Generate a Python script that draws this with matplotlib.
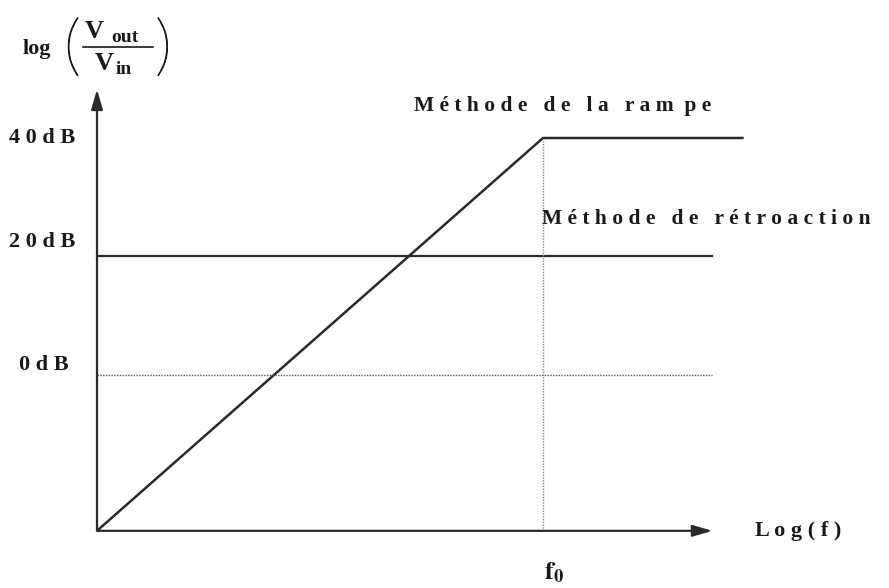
import matplotlib.pyplot as plt
import matplotlib.patheffects as pe

# schematic data: x in units of f0 (log scale, origin = 0), y in dB
ramp_x = [0.0, 1.0, 1.45]
ramp_y = [-26.3, 40.0, 40.0]
feedback_x = [0.0, 1.38]
feedback_y = [20.0, 20.0]
zero_x = [0.0, 1.38]
zero_y = [0.0, 0.0]
f0 = 1.0
y_bottom = -26.3
db_labels = ['4 0 d B', '2 0 d B', '0 d B']
db_label_x = [-0.197, -0.197, -0.175]
db_label_y = [40.0, 22.4, 1.7]

plt.rcParams['mathtext.fontset'] = 'stix'
W, H = 889, 588
fig = plt.figure(figsize=(W / 100, H / 100), dpi=100)
ax = fig.add_axes([0, 0, 1, 1])
ax.set_xlim(-0.2175, 1.7758)
ax.set_ylim(-35.95, 63.29)
ax.axis('off')

ink = '#1a1a1a'
font = dict(family=['Liberation Serif', 'DejaVu Serif'], weight='bold',
            color=ink)


def px(x, y):
    # pixel position (from top left) -> axes fraction
    return x / W, 1 - y / H


# axes with arrows
ax.annotate('', xy=(1.38, y_bottom), xytext=(0, y_bottom),
            arrowprops=dict(arrowstyle='-|>,head_length=1.2,head_width=0.35',
                            color='#2a2a2a', lw=1.6, shrinkA=0, shrinkB=0))
ax.annotate('', xy=(0, 48.2), xytext=(0, y_bottom),
            arrowprops=dict(arrowstyle='-|>,head_length=1.2,head_width=0.35',
                            color='#2a2a2a', lw=1.6, shrinkA=0, shrinkB=0))

# curves
ax.plot(ramp_x, ramp_y, color='#2a2a2a', lw=1.8, solid_capstyle='butt')
ax.plot(feedback_x, feedback_y, color='#2a2a2a', lw=1.6)
ax.plot(zero_x, zero_y, color='#555555', lw=1.0, ls=(0, (1, 1)))
ax.plot([f0, f0], [y_bottom, 40.0], color='#888888', lw=1.0, ls=(0, (1, 1)))

# labels
for lab, xx, yy in zip(db_labels, db_label_x, db_label_y):
    ax.text(xx, yy, lab, fontsize=16, va='center', ha='left', **font)

ax.text(0.71, 45.4, 'M é t h o d e   d e   l a   r a m  p e', fontsize=15.5,
        va='center', ha='left', **font)
ax.text(0.997, 26.4, 'M é t h o d e   d e   r é t r o a c t i o n',
        fontsize=15.5, va='center', ha='left', **font)
ax.text(1.475, -26.3, 'L o g ( f )', fontsize=16, va='center', ha='left',
        **font)
ax.text(1.003, -33.4, r'$\mathbf{f_0}$', fontsize=19, va='center', ha='left',
        color=ink)

# y axis title: log(Vout / Vin)
tr = dict(transform=ax.transAxes)
ax.text(*px(23, 49), 'log', fontsize=16, va='center', ha='left', **font, **tr)
paren = dict(fontsize=48, va='center', color=ink, family=['Lato', 'DejaVu Sans'],
             weight='light',
             path_effects=[pe.withStroke(linewidth=0.7, foreground=ink)])
ax.text(*px(64, 50), '(', ha='left', **paren, **tr)
ax.text(*px(172, 50), ')', ha='right', **paren, **tr)
ax.text(*px(85, 32), 'V', fontsize=19, va='center', ha='left', **font, **tr)
ax.text(*px(111, 37), 'out', fontsize=14, va='center', ha='left', **font, **tr)
ax.text(*px(95, 63), 'V', fontsize=19, va='center', ha='left', **font, **tr)
ax.text(*px(116, 70), 'in', fontsize=14, va='center', ha='left', **font, **tr)
ax.plot([83 / W, 153 / W], [1 - 47 / H, 1 - 47 / H], color=ink, lw=1.2,
        transform=ax.transAxes)

fig.savefig('out.png', dpi=100)
